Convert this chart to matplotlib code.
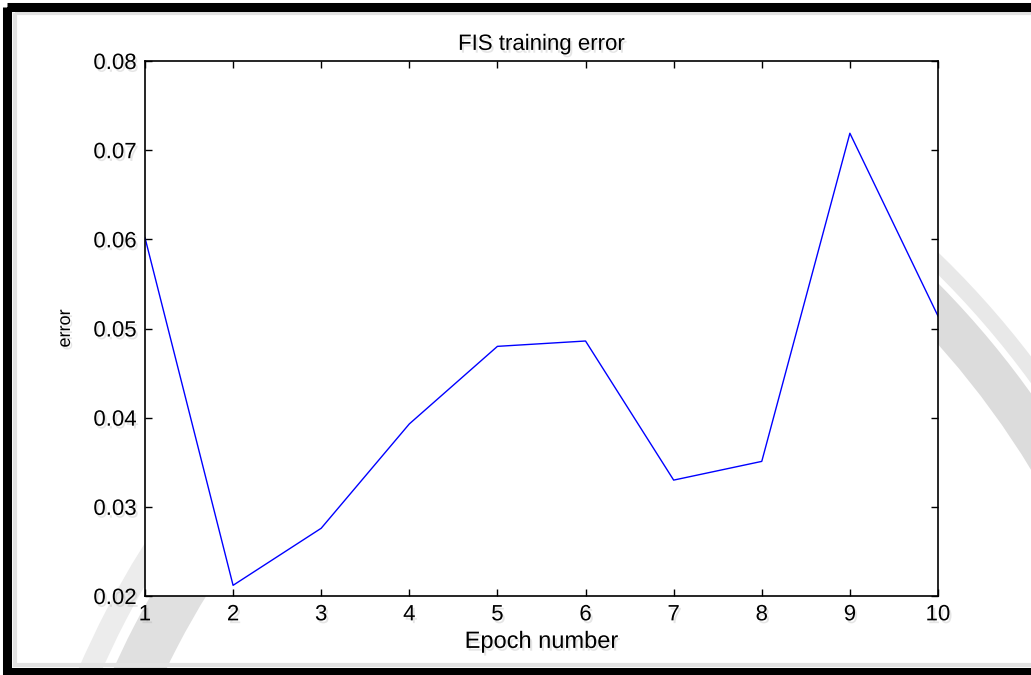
#FIS training error plot (MATLAB anfis style)

from matplotlib import pyplot as plt
from matplotlib import patheffects as pe
from matplotlib.patches import Rectangle, Wedge
import numpy as np

# Data

epoch = [1, 2, 3, 4, 5, 6, 7, 8, 9, 10]
error = [0.0602, 0.0212, 0.0276, 0.0393, 0.0480, 0.0486, 0.0330, 0.0351, 0.0719, 0.0514]
yticks = [0.02, 0.03, 0.04, 0.05, 0.06, 0.07, 0.08]
ytick_labels = ['0.02', '0.03', '0.04', '0.05', '0.06', '0.07', '0.08']

plt.rcParams['font.family'] = ['Liberation Sans', 'DejaVu Sans']

shadow = [pe.withSimplePatchShadow(offset=(1.5, -2), shadow_rgbFace='#9a9a9a', alpha=0.25)]

fig = plt.figure(figsize=(10.31, 6.75), dpi=100)
fig.patch.set_facecolor('white')

# Background layer in pixel coordinates: faint seal watermark and black frame

bg = fig.add_axes([0, 0, 1, 1], zorder=-10)
bg.set_xlim(0, 1031)
bg.set_ylim(675, 0)
bg.axis('off')

# left part of the seal ring
bg.add_patch(Wedge((905, 1025), 900, 190, 225, width=22, facecolor='#ececec', edgecolor='none'))
bg.add_patch(Wedge((905, 1025), 868, 190, 225, width=48, facecolor='#e0e0e0', edgecolor='none'))
# right part of the seal ring
bg.add_patch(Wedge((300, 915), 920, 312, 350, width=16, facecolor='#e8e8e8', edgecolor='none'))
bg.add_patch(Wedge((300, 915), 898, 312, 350, width=42, facecolor='#dcdcdc', edgecolor='none'))

bg.add_patch(Rectangle((15, 13), 1040, 652, fill=False, edgecolor='#e2e2e2', linewidth=3))
bg.add_patch(Rectangle((7, 6.5), 1040, 665, fill=False, edgecolor='black', linewidth=6.5))

# Main plot

ax = fig.add_axes([0.1406, 0.1170, 0.7692, 0.7926])
ax.plot(epoch, error, color='#0000ff', linewidth=1.0)
ax.set_xlim(1, 10)
ax.set_ylim(0.02, 0.08)
ax.set_xticks(epoch)
ax.set_yticks(yticks)
ax.set_yticklabels(ytick_labels)
ax.tick_params(direction='in', length=5, width=1, top=True, right=True, labelsize=16, pad=6)

for lab in ax.get_xticklabels() + ax.get_yticklabels():
    lab.set_path_effects(shadow)

for side in ['right', 'bottom']:
    ax.spines[side].set_path_effects([pe.SimplePatchShadow(offset=(3, -3), shadow_rgbFace='#888888', alpha=0.45), pe.Normal()])
for side in ax.spines:
    ax.spines[side].set_linewidth(1.2)

ax.set_title('FIS training error', fontsize=16, pad=8, path_effects=shadow)
ax.set_xlabel('Epoch number', fontsize=17, labelpad=4, path_effects=shadow)
ax.set_ylabel('error', fontsize=13, labelpad=14, path_effects=shadow)

fig.savefig('out.png', dpi=100)
